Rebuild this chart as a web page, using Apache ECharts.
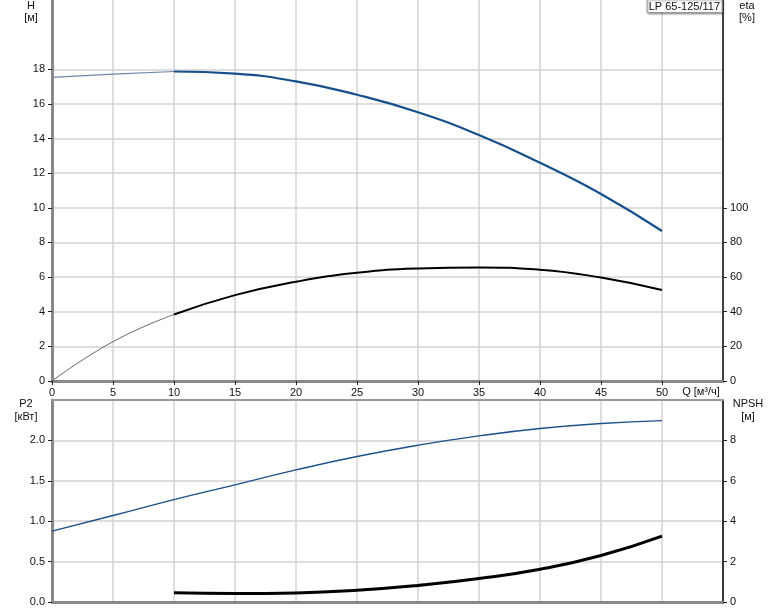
<!DOCTYPE html>
<html><head><meta charset="utf-8">
<script src="https://cdn.jsdelivr.net/npm/echarts@6/dist/echarts.min.js"></script>
<style>html,body{margin:0;padding:0;background:#fff}#c{width:774px;height:611px}</style>
</head><body><div id="c"></div>
<script>
const Q = [0, 5, 10, 15, 20, 25, 30, 35, 40, 45, 50];
const H = [17.53, 17.72, 17.87, 17.75, 17.3, 16.53, 15.52, 14.2, 12.6, 10.8, 8.66];
const ETA = [0, 22.7, 38.4, 49.6, 57.3, 62.5, 65.0, 65.6, 64.3, 59.7, 52.5];
const P2 = [0.877, 1.07, 1.267, 1.45, 1.635, 1.80, 1.94, 2.056, 2.147, 2.21, 2.245];
const Q_NPSH = [10, 15, 20, 25, 30, 35, 40, 45, 50];
const NPSH = [0.46, 0.42, 0.45, 0.58, 0.82, 1.16, 1.62, 2.3, 3.26];
const xTicks = [0, 5, 10, 15, 20, 25, 30, 35, 40, 45, 50];
const hTicks = [0, 2, 4, 6, 8, 10, 12, 14, 16, 18];
const etaTicks = [0, 20, 40, 60, 80, 100];
const p2Ticks = [0, 0.5, 1, 1.5, 2];
const npshTicks = [0, 2, 4, 6, 8];

const FONT = 'Liberation Sans, Arial, sans-serif';
const pairs = (xs, ys, a, b) => xs.slice(a, b).map((x, i) => [x, ys.slice(a, b)[i]]);

const grid = '#d3d3d3';
const lbl = {fontSize: 11, color: '#111', fontFamily: FONT};
function yAx(gi, pos, min, max, interval, ticks, lineColor, lineWidth, split, fmt) {
  return {
    type: 'value', gridIndex: gi, position: pos, min, max, interval,
    axisLine: {show: true, onZero: false, lineStyle: {color: lineColor, width: lineWidth}},
    axisTick: {show: true, length: 4, customValues: ticks, lineStyle: {color: '#222'}},
    axisLabel: Object.assign({customValues: ticks, margin: 7, formatter: fmt}, lbl),
    splitLine: {show: split, lineStyle: {color: grid, width: 1.5}}
  };
}
const SM = {smooth: 0.5, symbol: 'none', type: 'line'};

const chart = echarts.init(document.getElementById('c'), null, {renderer: 'canvas'});
chart.setOption({
  animation: false,
  backgroundColor: '#fff',
  title: {
    text: 'LP 65-125/117', right: 52, top: -1, padding: [2, 2, 1, 2],
    borderWidth: 1, borderColor: '#999', backgroundColor: '#fff',
    shadowColor: 'rgba(0,0,0,0.35)', shadowBlur: 2, shadowOffsetX: 1, shadowOffsetY: 1,
    textStyle: {fontSize: 11, fontWeight: 'normal', color: '#111', fontFamily: FONT}
  },
  grid: [
    {left: 52, right: 51, top: 0, height: 381},
    {left: 52, right: 51, top: 400, height: 202}
  ],
  xAxis: [
    {type: 'value', gridIndex: 0, min: 0, max: 55, interval: 5,
     axisLine: {show: true, onZero: false, lineStyle: {color: '#888', width: 3}},
     axisTick: {show: true, length: 4, customValues: xTicks, lineStyle: {color: '#222'}},
     axisLabel: Object.assign({customValues: xTicks, margin: 6}, lbl),
     splitLine: {show: true, lineStyle: {color: grid, width: 1.5}}},
    {type: 'value', gridIndex: 1, min: 0, max: 55, interval: 5,
     axisLine: {show: true, onZero: false, lineStyle: {color: '#888', width: 3}},
     axisTick: {show: false}, axisLabel: {show: false},
     splitLine: {show: true, lineStyle: {color: grid, width: 1.5}}},
    {type: 'value', gridIndex: 1, position: 'top', min: 0, max: 55, interval: 5,
     axisLine: {show: true, onZero: false, lineStyle: {color: '#999', width: 2}},
     axisTick: {show: false}, axisLabel: {show: false}, splitLine: {show: false}}
  ],
  yAxis: [
    yAx(0, 'left', 0, 22, 2, hTicks, '#888', 3, true, v => String(v)),
    yAx(0, 'right', 0, 220, 20, etaTicks, '#000', 1.5, false, v => String(v)),
    yAx(1, 'left', 0, 2.5, 0.5, p2Ticks, '#888', 3, true, v => v.toFixed(1)),
    yAx(1, 'right', 0, 10, 2, npshTicks, '#000', 1.5, false, v => String(v))
  ],
  graphic: [
    {type: 'text', style: {text: 'H', x: 31, y: 6, align: 'center', verticalAlign: 'middle', font: '11px ' + FONT, fill: '#111'}},
    {type: 'text', style: {text: '[м]', x: 31, y: 18, align: 'center', verticalAlign: 'middle', font: '11px ' + FONT, fill: '#111'}},
    {type: 'text', style: {text: 'eta', x: 747, y: 6, align: 'center', verticalAlign: 'middle', font: '11px ' + FONT, fill: '#111'}},
    {type: 'text', style: {text: '[%]', x: 747, y: 18, align: 'center', verticalAlign: 'middle', font: '11px ' + FONT, fill: '#111'}},
    {type: 'text', style: {text: 'P2', x: 26, y: 404, align: 'center', verticalAlign: 'middle', font: '11px ' + FONT, fill: '#111'}},
    {type: 'text', style: {text: '[кВт]', x: 26, y: 417, align: 'center', verticalAlign: 'middle', font: '11px ' + FONT, fill: '#111'}},
    {type: 'text', style: {text: 'NPSH', x: 748, y: 404, align: 'center', verticalAlign: 'middle', font: '11px ' + FONT, fill: '#111'}},
    {type: 'text', style: {text: '[м]', x: 748, y: 417, align: 'center', verticalAlign: 'middle', font: '11px ' + FONT, fill: '#111'}},
    {type: 'text', style: {text: 'Q [м³/ч]', x: 701, y: 392, align: 'center', verticalAlign: 'middle', font: '11px ' + FONT, fill: '#111'}}
  ],
  series: [
    Object.assign({name: 'H (ext)', xAxisIndex: 0, yAxisIndex: 0,
     data: pairs(Q, H, 0, 3), lineStyle: {color: '#6f86aa', width: 1.2}}, SM),
    Object.assign({name: 'H', xAxisIndex: 0, yAxisIndex: 0,
     data: pairs(Q, H, 2, 11), lineStyle: {color: '#164f8c', width: 2.2}}, SM),
    Object.assign({name: 'eta (ext)', xAxisIndex: 0, yAxisIndex: 1,
     data: pairs(Q, ETA, 0, 3), lineStyle: {color: '#666', width: 1}}, SM),
    Object.assign({name: 'eta', xAxisIndex: 0, yAxisIndex: 1,
     data: pairs(Q, ETA, 2, 11), lineStyle: {color: '#000', width: 2}}, SM),
    Object.assign({name: 'P2', xAxisIndex: 1, yAxisIndex: 2,
     data: pairs(Q, P2, 0, 11), lineStyle: {color: '#1d4f8a', width: 1.4}}, SM),
    Object.assign({name: 'NPSH', xAxisIndex: 1, yAxisIndex: 3,
     data: pairs(Q_NPSH, NPSH, 0, 9), lineStyle: {color: '#000', width: 3}}, SM)
  ]
});
</script>
</body></html>
